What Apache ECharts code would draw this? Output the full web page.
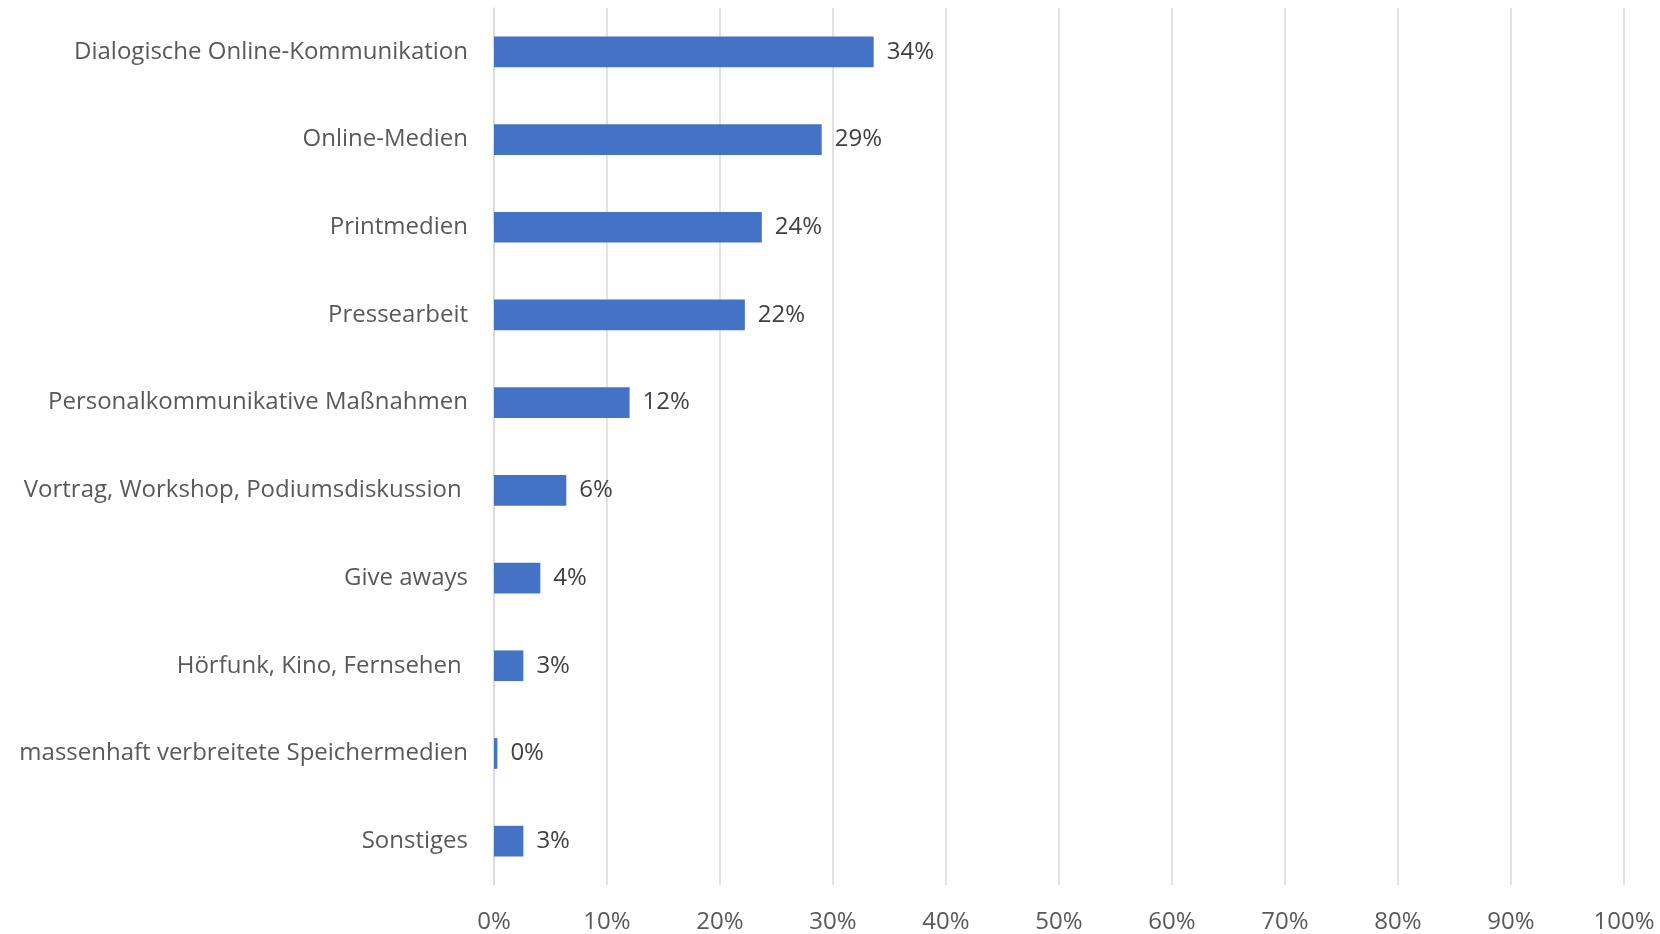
<!DOCTYPE html>
<html>
<head>
<meta charset="utf-8">
<script src="https://cdn.jsdelivr.net/npm/echarts@6/dist/echarts.min.js"></script>
<style>
  html, body { margin: 0; padding: 0; background: #ffffff; }
  #chart { width: 1660px; height: 934px; }
</style>
</head>
<body>
<div id="chart"></div>
<script>
// Kommunikationsinstrumente, Anteil in Prozent (von oben nach unten)
const categories = [
  'Dialogische Online-Kommunikation',
  'Online-Medien',
  'Printmedien',
  'Pressearbeit',
  'Personalkommunikative Maßnahmen',
  'Vortrag, Workshop, Podiumsdiskussion ',
  'Give aways',
  'Hörfunk, Kino, Fernsehen ',
  'massenhaft verbreitete Speichermedien',
  'Sonstiges'
];
const shares = [33.6, 29.0, 23.7, 22.2, 12.0, 6.4, 4.1, 2.6, 0.3, 2.6];
const tickStep = 10;
const axisMax = 100;

const FONT = 'Open Sans';

const chart = echarts.init(document.getElementById('chart'), null, { renderer: 'canvas' });
chart.setOption({
  backgroundColor: '#ffffff',
  animation: false,
  grid: { left: 494, right: 36, top: 8, bottom: 49, containLabel: false },
  xAxis: {
    type: 'value',
    min: 0,
    max: axisMax,
    interval: tickStep,
    axisLine: { show: false },
    axisTick: { show: false },
    splitLine: { show: true, lineStyle: { color: '#d9d9d9', width: 1.5 } },
    axisLabel: {
      formatter: v => v + '%',
      color: '#595959',
      fontFamily: FONT,
      fontSize: 24,
      margin: 25
    }
  },
  yAxis: {
    type: 'category',
    inverse: true,
    data: categories,
    axisLine: { show: true, lineStyle: { color: '#d9d9d9', width: 1.5 } },
    axisTick: { show: false },
    axisLabel: {
      color: '#595959',
      fontFamily: FONT,
      fontSize: 24,
      margin: 26
    }
  },
  series: [{
    type: 'bar',
    data: shares,
    barWidth: '35%',
    itemStyle: { color: '#4472c4' },
    label: {
      show: true,
      position: 'right',
      distance: 13,
      formatter: p => Math.round(p.value) + '%',
      color: '#404040',
      fontFamily: FONT,
      fontSize: 24
    }
  }]
});
</script>
</body>
</html>
